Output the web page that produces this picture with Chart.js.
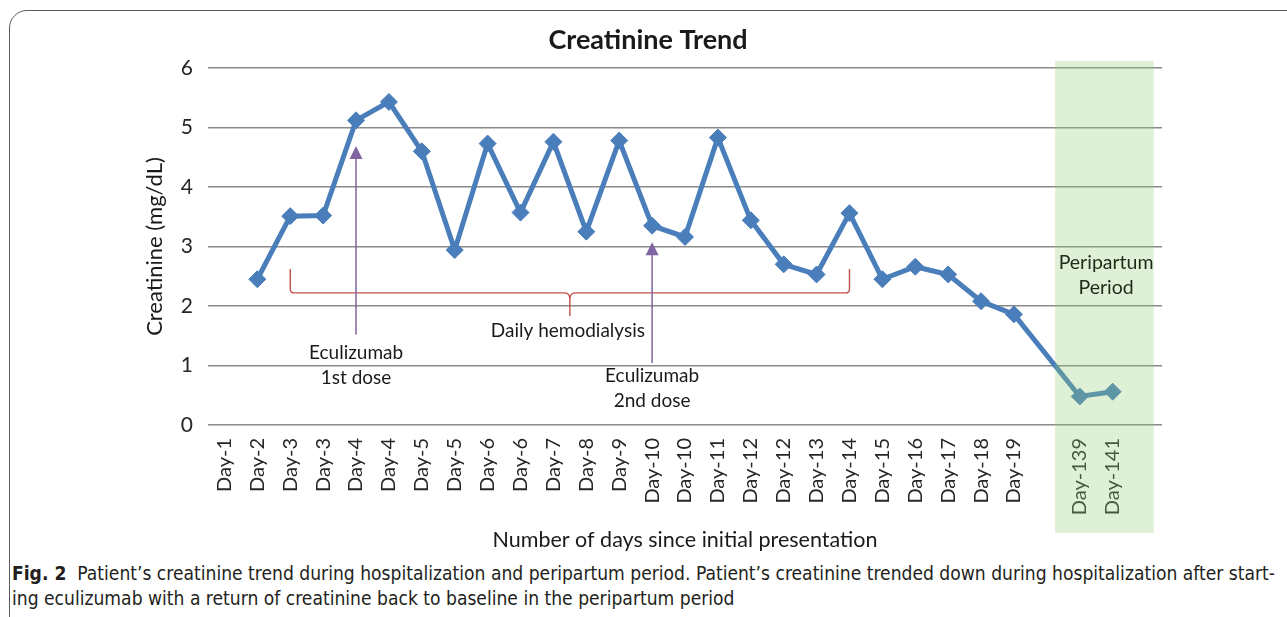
<!DOCTYPE html>
<html><head><meta charset="utf-8">
<script src="https://cdn.jsdelivr.net/npm/chart.js@4.4.0/dist/chart.umd.min.js"></script>
<style>
html,body{margin:0;padding:0;background:#fff;width:1287px;height:617px;overflow:hidden;}
#frame{position:absolute;left:9px;top:10px;width:1320px;height:660px;border:1.5px solid #5a5a5a;border-radius:18px;box-sizing:border-box;}
#wrap{position:absolute;left:0;top:0;width:1287px;height:560px;}
.cap{position:absolute;left:12px;font-family:"Liberation Sans Narrow","DejaVu Sans Condensed",sans-serif;font-size:19px;line-height:22px;color:#231f20;white-space:nowrap;transform-origin:0 50%;}
</style></head><body>
<div id="frame"></div>
<div id="wrap"><canvas id="c" width="1287" height="560"></canvas></div>
<div class="cap" id="cap1" style="top:562px"><b>Fig. 2</b>&nbsp; Patient’s creatinine trend during hospitalization and peripartum period. Patient’s creatinine trended down during hospitalization after start-</div>
<div class="cap" id="cap2" style="top:587px">ing eculizumab with a return of creatinine back to baseline in the peripartum period</div>
<script>
const categories = ['Day-1','Day-2','Day-3','Day-3','Day-4','Day-4','Day-5','Day-5','Day-6','Day-6','Day-7','Day-8','Day-9','Day-10','Day-10','Day-11','Day-12','Day-12','Day-13','Day-14','Day-15','Day-16','Day-17','Day-18','Day-19','','Day-139','Day-141',''];
const creatinine = [null,2.45,3.51,3.52,5.12,5.43,4.60,2.94,4.73,3.57,4.76,3.25,4.78,3.35,3.16,4.83,3.44,2.70,2.53,3.56,2.45,2.66,2.53,2.08,1.86,null,0.48,0.56,null];
const yTicks = [0,1,2,3,4,5,6];

// annotations in data coordinates (category index, value)
const doseArrows = [
  {idx:4, from:1.52, to:4.69, lines:['Eculizumab','1st dose'], textY:[1.21,0.79]},
  {idx:13, from:1.04, to:3.07, lines:['Eculizumab','2nd dose'], textY:[0.82,0.41]}
];
const dialysisBracket = {from:2, to:19, mid:10.5, top:2.62, line:2.22, tip:1.83, label:'Daily hemodialysis', labelIdx:10.44, labelY:1.58};
const peripartum = {from:25.25, to:28.25, top:6.12, lines:['Peripartum','Period'], textIdx:26.8, textY:[2.72,2.30]};

const FONT = 'Lato, "Open Sans", sans-serif';
const BLUE = '#4a7ebb';

const annot = {
  id:'annot',
  afterDatasetsDraw(chart){
    const {ctx, scales:{x,y}, chartArea} = chart;
    ctx.save();
    const b = dialysisBracket;
    const xl = x.getPixelForValue(b.from), xr = x.getPixelForValue(b.to), xm = x.getPixelForValue(b.mid);
    const yt = y.getPixelForValue(b.top), yl = y.getPixelForValue(b.line), yp = y.getPixelForValue(b.tip);
    ctx.strokeStyle = '#c0504d'; ctx.lineWidth = 1.4;
    ctx.beginPath();
    ctx.moveTo(xl, yt); ctx.lineTo(xl, yl-4); ctx.quadraticCurveTo(xl, yl, xl+4, yl);
    ctx.lineTo(xm-5, yl); ctx.quadraticCurveTo(xm, yl, xm, yl+7); ctx.lineTo(xm, yp);
    ctx.moveTo(xm, yl+7); ctx.quadraticCurveTo(xm, yl, xm+5, yl);
    ctx.lineTo(xr-4, yl); ctx.quadraticCurveTo(xr, yl, xr, yl-4); ctx.lineTo(xr, yt);
    ctx.stroke();
    ctx.strokeStyle = '#8064a2'; ctx.fillStyle = '#8064a2'; ctx.lineWidth = 1.5;
    doseArrows.forEach(a=>{
      const ax = x.getPixelForValue(a.idx), y0 = y.getPixelForValue(a.from), y1 = y.getPixelForValue(a.to);
      ctx.beginPath(); ctx.moveTo(ax, y0); ctx.lineTo(ax, y1+10); ctx.stroke();
      ctx.beginPath(); ctx.moveTo(ax, y1); ctx.lineTo(ax-6.5, y1+13); ctx.lineTo(ax+6.5, y1+13); ctx.closePath(); ctx.fill();
    });
    const p = peripartum;
    const bx0 = x.getPixelForValue(p.from), bx1 = x.getPixelForValue(p.to);
    const by0 = y.getPixelForValue(p.top), by1 = chartArea.bottom + 108;
    ctx.fillStyle = 'rgba(146,205,120,0.30)';
    ctx.fillRect(bx0, by0, bx1-bx0, by1-by0);
    ctx.restore();
  },
  afterDraw(chart){
    const {ctx, scales:{x,y}} = chart;
    ctx.save();
    ctx.textAlign = 'center'; ctx.textBaseline = 'middle';
    ctx.fillStyle = '#1a1a1a';
    ctx.font = 'bold 27px ' + FONT;
    ctx.fillText('Creatinine Trend', 648, 40);
    ctx.font = '19px ' + FONT;
    doseArrows.forEach(a=>{
      a.lines.forEach((t,i)=>ctx.fillText(t, x.getPixelForValue(a.idx), y.getPixelForValue(a.textY[i])));
    });
    const b = dialysisBracket;
    ctx.fillText(b.label, x.getPixelForValue(b.labelIdx), y.getPixelForValue(b.labelY));
    const p = peripartum;
    ctx.fillStyle = '#1e2a1a';
    ctx.font = '19.5px ' + FONT;
    p.lines.forEach((t,i)=>ctx.fillText(t, x.getPixelForValue(p.textIdx), y.getPixelForValue(p.textY[i])));
    ctx.restore();
  }
};

new Chart(document.getElementById('c'), {
  type:'line',
  data:{labels:categories, datasets:[{
    data:creatinine, borderColor:BLUE, backgroundColor:BLUE, borderWidth:5,
    pointStyle:'rectRot', pointRadius:8.5, pointBorderWidth:1, pointBackgroundColor:BLUE, pointBorderColor:BLUE,
    spanGaps:true, tension:0, clip:false
  }]},
  options:{
    responsive:false, animation:false, devicePixelRatio:1,
    layout:{padding:{top:68,right:125,left:0,bottom:0}},
    plugins:{legend:{display:false}, tooltip:{enabled:false}, title:{display:false}},
    scales:{
      x:{
        offset:true,
        grid:{display:false, drawTicks:false},
        border:{display:false},
        ticks:{autoSkip:false, minRotation:90, maxRotation:90, padding:13, color:'#262626', font:{family:FONT, size:20}},
        title:{display:true, text:'Number of days since initial presentation', color:'#1a1a1a', font:{family:FONT, size:21.5}, padding:{top:0,bottom:7}},
        afterFit(s){ s.height = 135; }
      },
      y:{
        min:0, max:6,
        afterBuildTicks(s){ s.ticks = yTicks.map(v=>({value:v})); },
        grid:{color:'#8a8a8a', lineWidth:1.5, drawTicks:false},
        border:{display:false},
        ticks:{padding:15, color:'#262626', font:{family:FONT, size:21}},
        title:{display:true, text:'Creatinine (mg/dL)', color:'#1a1a1a', font:{family:FONT, size:22}, padding:{top:142,bottom:0}},
        afterFit(s){ s.width = 208; }
      }
    }
  },
  plugins:[annot]
});

(function(){
  const c1 = document.getElementById('cap1'), c2 = document.getElementById('cap2');
  const w = c1.getBoundingClientRect().width;
  const k = 1263 / w;
  c1.style.transform = 'scaleX(' + k + ')';
  c2.style.transform = 'scaleX(' + k + ')';
})();
</script>
</body></html>
